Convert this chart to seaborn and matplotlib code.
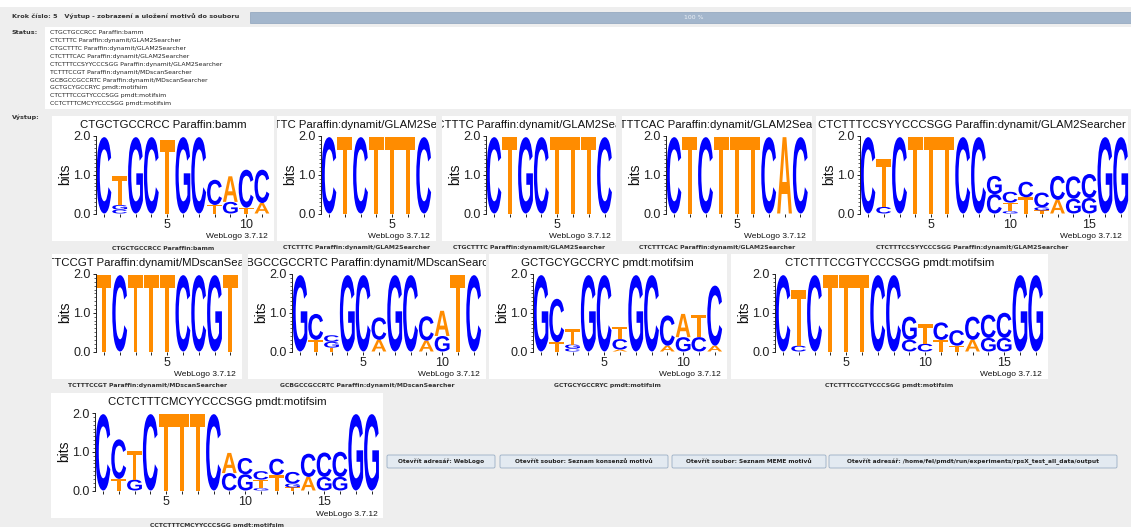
import matplotlib
matplotlib.use("Agg")
import matplotlib.pyplot as plt
import seaborn as sns
from matplotlib.textpath import TextPath
from matplotlib.font_manager import FontProperties
from matplotlib.patches import PathPatch, Rectangle, FancyBboxPatch
from matplotlib.transforms import Affine2D
from matplotlib.ticker import MultipleLocator

# ---- data (letters listed bottom -> top for each position, heights in bits) ----
titles = [
    "CTGCTGCCRCC Paraffin:bamm",
    "CTCTTTC Paraffin:dynamit/GLAM2Searcher",
    "CTGCTTTC Paraffin:dynamit/GLAM2Searcher",
    "CTCTTTCAC Paraffin:dynamit/GLAM2Searcher",
    "CTCTTTCCSYYCCCSGG Paraffin:dynamit/GLAM2Searcher",
    "TCTTTCCGT Paraffin:dynamit/MDscanSearcher",
    "GCBGCCGCCRTC Paraffin:dynamit/MDscanSearcher",
    "GCTGCYGCCRYC pmdt:motifsim",
    "CTCTTTCCGTYCCCSGG pmdt:motifsim",
    "CCTCTTTCMCYYCCCSGG pmdt:motifsim",
]

m1_letters = ["C", "CGT", "G", "C", "T", "G", "C", "TC", "GA", "TC", "AC"]
m1_heights = [[1.97], [0.1, 0.12, 0.74], [1.97], [1.97], [1.9], [1.97], [1.97],
              [0.22, 0.65], [0.3, 0.66], [0.15, 0.98], [0.27, 0.86]]

m2_letters = ["C", "T", "C", "T", "T", "T", "C"]
m2_heights = [[1.97]] * 7

m3_letters = ["C", "T", "G", "C", "T", "T", "T", "C"]
m3_heights = [[1.97]] * 8

m4_letters = ["C", "T", "C", "T", "T", "T", "C", "A", "C"]
m4_heights = [[1.97]] * 9

m5_letters = ["C", "CT", "C", "T", "T", "T", "C", "C", "CG", "GTC", "TC", "TGC",
              "AC", "GC", "GC", "G", "G"]
m5_heights = [[1.97], [0.17, 1.24], [1.97], [1.97], [1.97], [1.97], [1.97], [1.97],
              [0.5, 0.47], [0.06, 0.22, 0.28], [0.42, 0.4], [0.08, 0.08, 0.38],
              [0.35, 0.62], [0.38, 0.58], [0.4, 0.62], [1.97], [1.97]]

m6_letters = ["T", "C", "T", "T", "T", "C", "C", "G", "T"]
m6_heights = [[1.97]] * 9

m7_letters = ["G", "TC", "TGC", "G", "C", "AC", "G", "C", "AC", "GA", "T", "C"]
m7_heights = [[1.97], [0.3, 0.67], [0.1, 0.15, 0.17], [1.97], [1.97], [0.3, 0.58],
              [1.97], [1.97], [0.28, 0.63], [0.4, 0.65], [1.97], [1.97]]

m8_letters = ["G", "TC", "CGT", "G", "C", "ACT", "G", "C", "AC", "GA", "CT", "AC"]
m8_heights = [[1.97], [0.24, 1.12], [0.08, 0.1, 0.4], [1.97], [1.97],
              [0.05, 0.27, 0.3], [1.97], [1.97], [0.15, 0.78], [0.37, 0.6],
              [0.37, 0.58], [0.15, 1.55]]

m9_letters = ["C", "CT", "C", "T", "T", "T", "C", "C", "CG", "CT", "TC", "TC",
              "AC", "GC", "GC", "G", "G"]
m9_heights = [[1.97], [0.15, 1.45], [1.97], [1.97], [1.97], [1.97], [1.97], [1.97],
              [0.3, 0.6], [0.2, 0.5], [0.3, 0.45], [0.15, 0.4], [0.3, 0.6],
              [0.35, 0.6], [0.35, 0.65], [1.97], [1.97]]

m10_letters = ["C", "TC", "GT", "C", "T", "T", "T", "C", "CA", "GC", "GTC", "TC",
               "TGC", "AC", "GC", "GC", "G", "G"]
m10_heights = [[1.97], [0.3, 1.02], [0.28, 0.75], [1.97], [1.97], [1.97], [1.97],
               [1.97], [0.45, 0.52], [0.42, 0.42], [0.06, 0.22, 0.22], [0.4, 0.42],
               [0.08, 0.1, 0.3], [0.35, 0.6], [0.35, 0.63], [0.35, 0.65], [1.97], [1.97]]

motifs = [(m1_letters, m1_heights), (m2_letters, m2_heights), (m3_letters, m3_heights),
          (m4_letters, m4_heights), (m5_letters, m5_heights), (m6_letters, m6_heights),
          (m7_letters, m7_heights), (m8_letters, m8_heights), (m9_letters, m9_heights),
          (m10_letters, m10_heights)]

buttons = ["Otevřít adresář: WebLogo",
           "Otevřít soubor: Seznam konsenzů motivů",
           "Otevřít soubor: Seznam MEME motivů",
           "Otevřít adresář: /home/fel/pmdt/run/experiments/rpsX_test_all_data/output"]

# ---- layout (pixels) ----
W, H = 1131, 527
box_lefts = [52, 277, 442, 622, 816, 52, 248, 489, 731, 51]
box_tops = [116, 116, 116, 116, 116, 254, 254, 254, 254, 393]
button_x = [(387, 495), (500, 668), (672, 826), (829, 1117)]
STEP = 15.8

base_colors = {"A": "#ff8c00", "T": "#ff8c00", "G": "#0000ff", "C": "#0000ff"}

sns.set_theme(style="ticks")
plt.rcParams["font.family"] = ["Liberation Sans", "DejaVu Sans"]

fig = plt.figure(figsize=(W / 100, H / 100), dpi=100)
fig.patch.set_facecolor("#eeeeee")
px = Affine2D().scale(1 / W, -1 / H).translate(0, 1) + fig.transFigure

letter_font = FontProperties(family="Liberation Sans", weight="bold")
ui_bold = dict(family="DejaVu Sans", weight="bold", color="#333333")


def draw_letter(ax, ch, x, y, h):
    tp = TextPath((0, 0), ch, size=1, prop=letter_font)
    bb = tp.get_extents()
    w = 0.94
    tr = (Affine2D().translate(-bb.x0, -bb.y0)
          .scale(w / bb.width, h / bb.height).translate(x - w / 2, y))
    ax.add_patch(PathPatch(tr.transform_path(tp), fc=base_colors[ch], ec="none",
                           lw=0, clip_on=False))


# top strip, header, progress bar
fig.add_artist(Rectangle((0, 0), W, 7, transform=px, fc="white", ec="none", zorder=-10))
fig.text(12, 16, "Krok číslo: 5   Výstup - zobrazení a uložení motivů do souboru",
         transform=px, fontsize=4.65, va="center", ha="left", **ui_bold)
fig.add_artist(Rectangle((250, 12), W - 250, 10.5, transform=px, fc="#a3b6cc",
                         ec="#8da2bb", lw=0.5, zorder=-9))
fig.text(694, 17.5, "100 %", transform=px, fontsize=4.4, color="#eef2f7",
         ha="center", va="center", family="DejaVu Sans")

# status area
fig.add_artist(Rectangle((45, 27), W - 45, 82, transform=px, fc="white", ec="none",
                         zorder=-10))
fig.text(12, 33, "Status:", transform=px, fontsize=4.6, va="center", **ui_bold)
for i, line in enumerate(titles):
    fig.text(50, 33 + i * 7.85, line, transform=px, fontsize=4.45, va="center",
             family="DejaVu Sans", color="#222222")

fig.text(12, 117, "Výstup:", transform=px, fontsize=4.6, va="center", **ui_bold)

# logo panels
for (letters, heights), title, bl, bt in zip(motifs, titles, box_lefts, box_tops):
    n = len(letters)
    ax_left = bl + 44
    br = min(ax_left + STEP * n + 4, 1128)
    box = Rectangle((bl, bt), br - bl, 125, transform=px, fc="white", ec="none",
                    zorder=-5)
    fig.add_artist(box)

    ax = fig.add_axes([ax_left / W, 1 - (bt + 97.5) / H, STEP * n / W, 77.5 / H])
    ax.patch.set_alpha(0)
    for pos, (col, hts) in enumerate(zip(letters, heights), start=1):
        y = 0.0
        for ch, h in zip(col, hts):
            draw_letter(ax, ch, pos, y, h)
            y += h
    ax.set_xlim(0.5, n + 0.5)
    ax.set_ylim(0, 2)
    ax.set_yticks([0, 1, 2])
    ax.set_yticklabels(["0.0", "1.0", "2.0"])
    ax.yaxis.set_minor_locator(MultipleLocator(0.1))
    ax.set_xticks(range(1, n + 1))
    ax.set_xticklabels([str(i) if i % 5 == 0 else "" for i in range(1, n + 1)])
    ax.tick_params(axis="both", which="major", labelsize=9, length=2.5, width=0.7,
                   pad=1.5, colors="#222222")
    ax.tick_params(axis="y", which="minor", length=1.3, width=0.5, colors="#222222")
    sns.despine(ax=ax, bottom=True)
    ax.spines["left"].set_linewidth(0.7)
    ax.spines["left"].set_color("#222222")

    mid_y = bt + 58.5
    fig.text(bl + 13.5, mid_y, "bits", transform=px, rotation=90, fontsize=10,
             ha="center", va="center", color="#111111")
    t = fig.text((bl + br) / 2, bt + 9, title, transform=px, fontsize=8.2,
                 ha="center", va="center", color="#111111")
    t.set_clip_path(box)
    fig.text(br - 6, bt + 121, "WebLogo 3.7.12", transform=px, fontsize=6,
             ha="right", va="center", color="#111111")
    fig.text((bl + br) / 2, bt + 132, title, transform=px, fontsize=4.45,
             ha="center", va="center", **ui_bold)

# buttons
for (x0, x1), label in zip(button_x, buttons):
    fig.add_artist(FancyBboxPatch((x0, 455), x1 - x0, 13, transform=px,
                                  boxstyle="round,pad=0,rounding_size=1.5",
                                  fc="#e3eaf1", ec="#9aaec4", lw=0.6, zorder=-4))
    fig.text((x0 + x1) / 2, 461.5, label, transform=px, fontsize=4.2, ha="center",
             va="center", family="DejaVu Sans", weight="bold", color="#222222")

fig.savefig("out.png", dpi=100, facecolor=fig.get_facecolor())
